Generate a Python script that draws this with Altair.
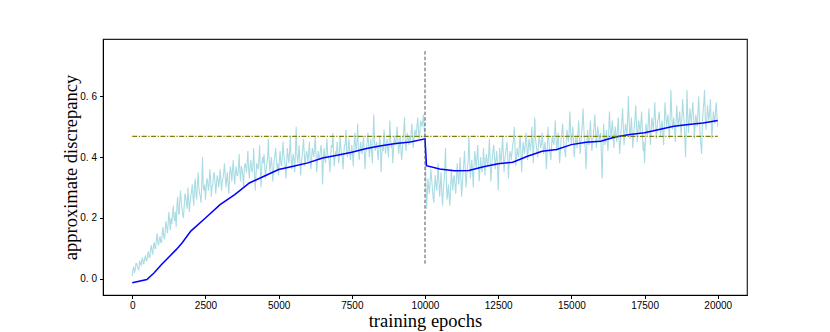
import altair as alt
import pandas as pd

# ---------------- data ----------------
# light-blue raw curve, sampled every 50 epochs (0, 50, ..., 20000)
noisy_values = [
    0.01, 0.04, 0.03, 0.05, 0.035, 0.06, 0.045, 0.07, 0.05, 0.075,
    0.06, 0.09, 0.07, 0.11, 0.08, 0.12, 0.10, 0.15, 0.11, 0.14,
    0.12, 0.17, 0.13, 0.19, 0.15, 0.22, 0.16, 0.18, 0.24, 0.19,
    0.17, 0.27, 0.21, 0.29, 0.23, 0.20, 0.28, 0.25, 0.30, 0.22,
    0.27, 0.31, 0.24, 0.33, 0.26, 0.35, 0.28, 0.25, 0.40, 0.29,
    0.26, 0.33, 0.29, 0.36, 0.27, 0.31, 0.35, 0.28, 0.34, 0.30,
    0.36, 0.29, 0.33, 0.38, 0.30, 0.35, 0.28, 0.37, 0.32, 0.39,
    0.31, 0.37, 0.34, 0.41, 0.32, 0.36, 0.30, 0.38, 0.35, 0.42,
    0.33, 0.39, 0.35, 0.43, 0.29, 0.38, 0.36, 0.44, 0.30, 0.40,
    0.41, 0.33, 0.38, 0.46, 0.35, 0.40, 0.32, 0.39, 0.43, 0.36,
    0.34, 0.42, 0.37, 0.45, 0.39, 0.33, 0.43, 0.38, 0.47, 0.36,
    0.41, 0.35, 0.50, 0.38, 0.44, 0.34, 0.40, 0.46, 0.37, 0.42,
    0.38, 0.45, 0.36, 0.43, 0.40, 0.47, 0.35, 0.42, 0.39, 0.44,
    0.31, 0.43, 0.38, 0.46, 0.40, 0.35, 0.44, 0.48, 0.37, 0.42,
    0.45, 0.38, 0.47, 0.41, 0.36, 0.44, 0.49, 0.40, 0.46, 0.39,
    0.44, 0.37, 0.48, 0.42, 0.51, 0.39, 0.45, 0.41, 0.47, 0.36,
    0.43, 0.48, 0.40, 0.46, 0.38, 0.54, 0.42, 0.45, 0.39, 0.47,
    0.35, 0.44, 0.49, 0.41, 0.46, 0.40, 0.52, 0.43, 0.38, 0.47,
    0.44, 0.50, 0.41, 0.47, 0.39, 0.46, 0.53, 0.42, 0.48, 0.44,
    0.45, 0.51, 0.43, 0.49, 0.47, 0.53, 0.46, 0.52, 0.50, 0.54,
    0.47, 0.23, 0.33, 0.28, 0.36, 0.30, 0.25, 0.34, 0.29, 0.38,
    0.27, 0.35, 0.24, 0.32, 0.43, 0.26, 0.31, 0.24, 0.36, 0.29,
    0.34, 0.28, 0.38, 0.31, 0.40, 0.27, 0.35, 0.42, 0.30, 0.37,
    0.47, 0.33, 0.39, 0.30, 0.42, 0.36, 0.44, 0.32, 0.40, 0.35,
    0.43, 0.34, 0.41, 0.37, 0.46, 0.32, 0.40, 0.44, 0.36, 0.42,
    0.29, 0.43, 0.38, 0.47, 0.35, 0.41, 0.45, 0.33, 0.42, 0.39,
    0.44, 0.50, 0.37, 0.43, 0.40, 0.47, 0.35, 0.45, 0.41, 0.48,
    0.39, 0.46, 0.42, 0.50, 0.38, 0.53, 0.44, 0.40, 0.47, 0.43,
    0.48, 0.41, 0.45, 0.36, 0.50, 0.43, 0.39, 0.47, 0.44, 0.52,
    0.42, 0.48, 0.38, 0.46, 0.51, 0.43, 0.40, 0.49, 0.45, 0.55,
    0.44, 0.50, 0.40, 0.47, 0.43, 0.52, 0.41, 0.48, 0.56, 0.45,
    0.36, 0.49, 0.44, 0.52, 0.42, 0.47, 0.54, 0.43, 0.50, 0.45,
    0.48, 0.33, 0.51, 0.44, 0.49, 0.42, 0.55, 0.46, 0.52, 0.43,
    0.50, 0.45, 0.53, 0.41, 0.49, 0.56, 0.44, 0.51, 0.47, 0.60,
    0.46, 0.53, 0.43, 0.50, 0.57, 0.45, 0.52, 0.48, 0.55, 0.42,
    0.38, 0.51, 0.47, 0.56, 0.44, 0.53, 0.49, 0.58, 0.46, 0.52,
    0.55, 0.47, 0.52, 0.44, 0.58, 0.50, 0.54, 0.46, 0.62, 0.49,
    0.53, 0.45, 0.57, 0.50, 0.55, 0.47, 0.59, 0.52, 0.40, 0.62,
    0.48, 0.56, 0.51, 0.58, 0.46, 0.54, 0.50, 0.60, 0.47, 0.41,
    0.55, 0.62, 0.49, 0.57, 0.52, 0.59, 0.46, 0.55, 0.51, 0.58,
    0.50,
]
# light-blue raw curve, in-between samples (25, 75, ..., 19975)
noisy_mid_values = [
    0.03, 0.02, 0.05, 0.04, 0.03, 0.05, 0.06, 0.05, 0.07, 0.06,
    0.08, 0.07, 0.10, 0.09, 0.11, 0.10, 0.13, 0.12, 0.13, 0.12,
    0.15, 0.14, 0.16, 0.17, 0.18, 0.19, 0.20, 0.21, 0.20, 0.22,
    0.24, 0.22, 0.26, 0.25, 0.21, 0.24, 0.27, 0.23, 0.26, 0.25,
    0.29, 0.27, 0.30, 0.28, 0.31, 0.30, 0.27, 0.32, 0.30, 0.31,
    0.30, 0.32, 0.31, 0.33, 0.30, 0.34, 0.32, 0.31, 0.33, 0.32,
    0.33, 0.32, 0.35, 0.34, 0.33, 0.31, 0.34, 0.35, 0.36, 0.34,
    0.35, 0.34, 0.36, 0.35, 0.37, 0.34, 0.36, 0.37, 0.38, 0.36,
    0.37, 0.36, 0.38, 0.35, 0.34, 0.37, 0.39, 0.36, 0.37, 0.38,
    0.37, 0.36, 0.40, 0.39, 0.38, 0.37, 0.36, 0.41, 0.39, 0.38,
    0.39, 0.38, 0.40, 0.41, 0.37, 0.39, 0.40, 0.42, 0.40, 0.39,
    0.39, 0.42, 0.41, 0.40, 0.39, 0.38, 0.43, 0.41, 0.40, 0.41,
    0.41, 0.40, 0.39, 0.42, 0.43, 0.41, 0.39, 0.40, 0.42, 0.41,
    0.38, 0.40, 0.42, 0.41, 0.39, 0.40, 0.43, 0.42, 0.40, 0.41,
    0.42, 0.41, 0.43, 0.40, 0.41, 0.44, 0.42, 0.43, 0.42, 0.41,
    0.41, 0.43, 0.44, 0.45, 0.43, 0.42, 0.43, 0.44, 0.42, 0.41,
    0.45, 0.44, 0.43, 0.42, 0.46, 0.45, 0.44, 0.42, 0.43, 0.44,
    0.41, 0.42, 0.45, 0.44, 0.43, 0.45, 0.46, 0.44, 0.43, 0.45,
    0.47, 0.45, 0.44, 0.43, 0.42, 0.49, 0.46, 0.45, 0.46, 0.47,
    0.48, 0.47, 0.46, 0.48, 0.50, 0.49, 0.48, 0.51, 0.52, 0.49,
    0.36, 0.27, 0.30, 0.32, 0.33, 0.27, 0.30, 0.31, 0.33, 0.32,
    0.31, 0.28, 0.29, 0.36, 0.34, 0.28, 0.27, 0.30, 0.32, 0.33,
    0.31, 0.33, 0.34, 0.35, 0.33, 0.31, 0.38, 0.36, 0.34, 0.39,
    0.40, 0.36, 0.35, 0.37, 0.39, 0.40, 0.38, 0.36, 0.37, 0.38,
    0.38, 0.39, 0.38, 0.41, 0.39, 0.36, 0.42, 0.40, 0.39, 0.38,
    0.36, 0.40, 0.42, 0.41, 0.39, 0.43, 0.40, 0.38, 0.41, 0.42,
    0.46, 0.43, 0.40, 0.41, 0.44, 0.42, 0.40, 0.43, 0.44, 0.45,
    0.42, 0.44, 0.45, 0.44, 0.47, 0.46, 0.42, 0.44, 0.45, 0.44,
    0.45, 0.43, 0.41, 0.43, 0.46, 0.41, 0.44, 0.45, 0.47, 0.46,
    0.45, 0.43, 0.42, 0.48, 0.47, 0.42, 0.45, 0.47, 0.49, 0.48,
    0.47, 0.45, 0.44, 0.45, 0.48, 0.46, 0.45, 0.51, 0.50, 0.43,
    0.42, 0.46, 0.48, 0.47, 0.45, 0.50, 0.49, 0.47, 0.48, 0.47,
    0.41, 0.42, 0.47, 0.46, 0.45, 0.48, 0.50, 0.49, 0.48, 0.47,
    0.47, 0.49, 0.47, 0.45, 0.52, 0.50, 0.48, 0.49, 0.53, 0.51,
    0.49, 0.48, 0.47, 0.53, 0.51, 0.49, 0.50, 0.51, 0.49, 0.45,
    0.44, 0.49, 0.51, 0.50, 0.48, 0.51, 0.53, 0.52, 0.49, 0.53,
    0.51, 0.50, 0.48, 0.51, 0.54, 0.52, 0.50, 0.53, 0.55, 0.51,
    0.49, 0.51, 0.53, 0.52, 0.51, 0.53, 0.55, 0.47, 0.49, 0.54,
    0.52, 0.53, 0.55, 0.53, 0.50, 0.52, 0.55, 0.53, 0.44, 0.50,
    0.58, 0.53, 0.52, 0.54, 0.55, 0.52, 0.50, 0.53, 0.55, 0.53,
]
noisy_epochs = [i * 50 for i in range(len(noisy_values))]
noisy_mid_epochs = [25 + i * 50 for i in range(len(noisy_mid_values))]

# dark-blue smoothed curve
smooth_epochs = [0, 500, 750, 1000, 1500, 1700, 2000, 2500, 3000, 3500, 4000,
                 4500, 5000, 5500, 6000, 6500, 7000, 7500, 8000, 8500, 9000,
                 9500, 10000, 10050, 10500, 11000, 11500, 12000, 12500, 13000,
                 13500, 14000, 14500, 15000, 15500, 16000, 16500, 17000, 17500,
                 18000, 18500, 19000, 19500, 20000]
smooth_values = [-0.013, -0.002, 0.020, 0.047, 0.096, 0.118, 0.157, 0.200, 0.244,
                 0.277, 0.315, 0.337, 0.359, 0.370, 0.381, 0.397, 0.406, 0.416,
                 0.428, 0.437, 0.445, 0.450, 0.460, 0.372, 0.361, 0.355, 0.356,
                 0.368, 0.378, 0.383, 0.403, 0.419, 0.425, 0.441, 0.449, 0.452,
                 0.466, 0.474, 0.480, 0.491, 0.501, 0.507, 0.512, 0.520]

threshold = [0.468]
threshold_span = [0, 20000]
switch_epoch = [10000]
switch_span = [0.05, 0.75]

x_ticks = [0, 2500, 5000, 7500, 10000, 12500, 15000, 17500, 20000]
y_ticks = [0.0, 0.2, 0.4, 0.6]

# ---------------- chart ----------------
noisy_df = pd.DataFrame({
    "epoch": noisy_epochs + noisy_mid_epochs,
    "value": noisy_values + noisy_mid_values,
}).sort_values("epoch")
smooth_df = pd.DataFrame({"epoch": smooth_epochs, "value": smooth_values})
hline_df = pd.DataFrame({"x": [threshold_span[0]], "x2": [threshold_span[1]], "y": threshold})
vline_df = pd.DataFrame({"x": switch_epoch, "y": [switch_span[0]], "y2": [switch_span[1]]})

xscale = alt.Scale(domain=[-1000, 21000], nice=False, zero=False)
yscale = alt.Scale(domain=[-0.053, 0.788], nice=False, zero=False)

xaxis = alt.Axis(
    title="training epochs", values=x_ticks, grid=False, format="d",
    titleFont="Liberation Serif", titleFontSize=18.5, titleFontWeight="normal",
    titleColor="black", titleY=25, titleBaseline="middle",
    labelFont="Liberation Sans", labelFontSize=10, labelColor="black",
    labelPadding=2, tickSize=3.5, tickColor="black", domainColor="black",
    labelFlush=False,
)
yaxis = alt.Axis(
    title="approximate discrepancy", values=y_ticks, grid=False,
    labelExpr="replace(format(datum.value, '.1f'), '.', '. ')",
    titleFont="Liberation Serif", titleFontSize=18.5, titleFontWeight="normal",
    titleColor="black", titleX=-33, titleY=128, titleAngle=270,
    titleBaseline="middle", titleAlign="center",
    labelFont="Liberation Sans", labelFontSize=10, labelColor="black",
    labelPadding=3, tickSize=3.5, tickColor="black", domainColor="black",
    labelFlush=False,
)

noisy = alt.Chart(noisy_df).mark_line(color="#abdce3", strokeWidth=1.1).encode(
    x=alt.X("epoch:Q", scale=xscale, axis=xaxis),
    y=alt.Y("value:Q", scale=yscale, axis=yaxis),
    order="epoch:Q",
)
smooth = alt.Chart(smooth_df).mark_line(color="#0000ff", strokeWidth=1.5).encode(
    x=alt.X("epoch:Q", scale=xscale),
    y=alt.Y("value:Q", scale=yscale),
)
hline = alt.Chart(hline_df).mark_rule(
    color="#808000", strokeWidth=1.4, strokeDash=[5, 1.6, 1.2, 1.6]
).encode(
    x=alt.X("x:Q", scale=xscale), x2="x2:Q", y=alt.Y("y:Q", scale=yscale)
)
vline = alt.Chart(vline_df).mark_rule(
    color="#555555", strokeWidth=1, strokeDash=[3.5, 2]
).encode(
    x=alt.X("x:Q", scale=xscale), y=alt.Y("y:Q", scale=yscale), y2="y2:Q"
)

chart = alt.layer(noisy, smooth, hline, vline).properties(
    width=644, height=256,
    autosize=alt.AutoSizeParams(type="none"),
    padding={"left": 95, "top": 31, "right": 60, "bottom": 37},
).configure_view(stroke="#222222", strokeWidth=1.2)

chart.save("out.html", embed_options={"renderer": "svg", "actions": False})
